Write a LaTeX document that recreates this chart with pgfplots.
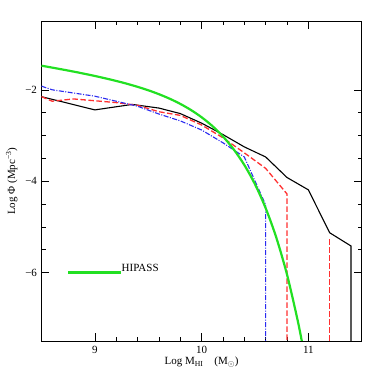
\documentclass[border=0pt]{standalone}
\usepackage{fontspec}
\setmainfont{Liberation Serif}
\usepackage{pgfplots}
\pgfplotsset{compat=1.18}

\definecolor{hipgreen}{HTML}{22E022}
\definecolor{dashred}{HTML}{FF3030}
\definecolor{dotblue}{HTML}{2A2AF0}

\begin{document}
\begin{tikzpicture}
  \useasboundingbox (-41.5pt,-41pt) rectangle (340.5pt,341pt);
  \begin{axis}[
    at={(0,0)}, anchor=south west,
    scale only axis,
    width=320.2pt, height=319.7pt,
    xmin=8.5, xmax=11.5,
    ymin=-7.5, ymax=-0.5,
    xtick={9,10,11}, xticklabels={9,10,11},
    ytick={-6,-4,-2}, yticklabels={−6,−4,−2},
    minor x tick num=4,
    minor y tick num=3,
    tick align=inside,
    major tick length=7.7pt,
    minor tick length=4pt,
    tick style={black, line width=0.6pt},
    axis line style={black, line width=0.9pt},
    ticklabel style={font=\fontsize{11}{13}\selectfont},
    xticklabel style={yshift=-2pt},
    yticklabel style={xshift=-1pt},
    xlabel={Log M\textsubscript{HI}\quad (M\textsubscript{$\odot$})},
    ylabel={Log Φ (Mpc\textsuperscript{−3})},
    label style={font=\fontsize{11}{13}\selectfont},
    xlabel style={yshift=4pt},
    ylabel style={yshift=1pt},
    clip=true,
  ]
    % black solid
    \addplot[black, line width=1.1pt] coordinates {
      (8.5,-2.15) (9.0,-2.44) (9.35,-2.32) (9.6,-2.40) (9.8,-2.52)
      (10.0,-2.73) (10.2,-2.98) (10.4,-3.25) (10.6,-3.47) (10.8,-3.92)
      (11.0,-4.19) (11.2,-5.13) (11.4,-5.42) (11.4,-7.5)};
    % red dashed
    \addplot[dashred, line width=1.3pt, dash pattern=on 5.5pt off 2.5pt] coordinates {
      (8.5,-2.15) (8.6,-2.25) (8.8,-2.20) (9.0,-2.24) (9.2,-2.28)
      (9.4,-2.34) (9.6,-2.48) (9.8,-2.56) (10.0,-2.77) (10.2,-3.05)
      (10.4,-3.38) (10.6,-3.72) (10.8,-4.28) (10.8,-7.5)};
    \addplot[dashred, line width=1.3pt, dash pattern=on 5.5pt off 2.5pt] coordinates {
      (11.2,-5.27) (11.2,-7.5)};
    % blue dash-dot
    \addplot[dotblue, line width=1.1pt, dash pattern=on 5pt off 1.5pt on 1pt off 1.5pt] coordinates {
      (8.5,-1.92) (8.6,-2.00) (9.0,-2.14) (9.4,-2.36) (9.6,-2.53)
      (9.8,-2.68) (10.0,-2.88) (10.2,-3.16) (10.4,-3.47) (10.6,-4.52)
      (10.6,-7.5)};
    % HIPASS
    \addplot[hipgreen, line width=2.2pt, smooth] coordinates {
      (8.5,-1.472) (8.6,-1.514) (8.7,-1.557) (8.8,-1.601) (8.9,-1.648)
      (9.0,-1.697) (9.1,-1.750) (9.2,-1.806) (9.3,-1.867) (9.4,-1.935)
      (9.5,-2.010) (9.6,-2.096) (9.7,-2.194) (9.8,-2.308) (9.9,-2.442)
      (10.0,-2.601) (10.1,-2.791) (10.2,-3.021) (10.3,-3.302) (10.4,-3.645)
      (10.5,-4.067) (10.6,-4.590) (10.7,-5.237) (10.8,-6.043) (10.9,-7.048)
      (10.95,-7.641)};
    % legend line
    \addplot[hipgreen, line width=2.2pt] coordinates {(8.75,-6.0) (9.245,-6.0)};
    \node[anchor=base west, inner sep=0pt, font=\fontsize{11}{13}\selectfont]
      at (axis cs:9.25,-5.97) {HIPASS};
  \end{axis}
\end{tikzpicture}
\end{document}
